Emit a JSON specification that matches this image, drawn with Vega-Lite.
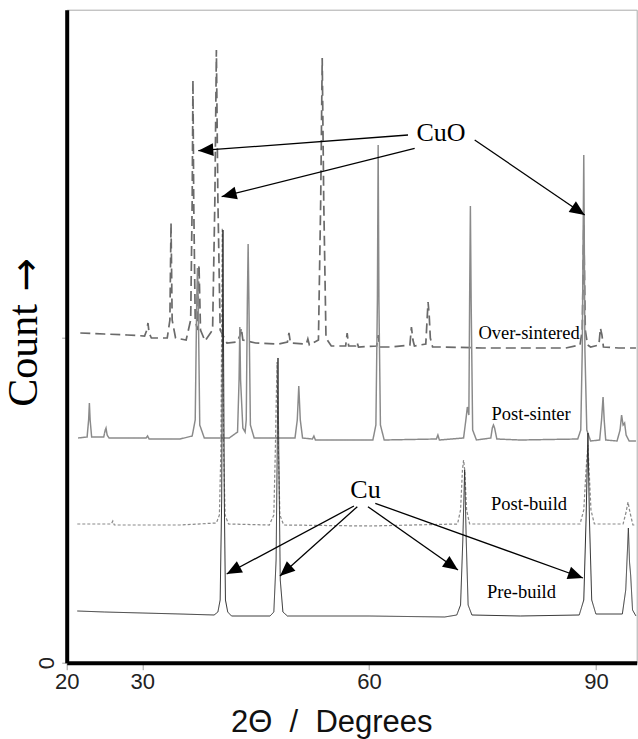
{
  "$schema": "https://vega.github.io/schema/vega-lite/v6.json",
  "width": 570,
  "height": 653,
  "autosize": "none",
  "padding": {"left": 66.7, "top": 9.7, "right": 1.3, "bottom": 76.3},
  "background": "white",
  "config": {"view": {"stroke": "#aaaaaa", "strokeWidth": 1}, "font": "Liberation Sans"},
  "resolve": {"axis": {"y": "independent"}},
  "datasets": {
    "traces": [
      {"sample":"Over-sintered","deg":21.8,"count":3297},{"sample":"Over-sintered","deg":25,"count":3287},{"sample":"Over-sintered","deg":28,"count":3277},{"sample":"Over-sintered","deg":30.3,"count":3267},{"sample":"Over-sintered","deg":30.6,"count":3327},{"sample":"Over-sintered","deg":30.75,"count":3397},{"sample":"Over-sintered","deg":30.9,"count":3297},{"sample":"Over-sintered","deg":31.2,"count":3247},{"sample":"Over-sintered","deg":33.3,"count":3247},{"sample":"Over-sintered","deg":33.65,"count":3427},{"sample":"Over-sintered","deg":33.8,"count":4397},{"sample":"Over-sintered","deg":33.95,"count":3427},{"sample":"Over-sintered","deg":34.4,"count":3247},{"sample":"Over-sintered","deg":35.8,"count":3227},{"sample":"Over-sintered","deg":36.4,"count":3427},{"sample":"Over-sintered","deg":36.6,"count":4627},{"sample":"Over-sintered","deg":36.7,"count":5827},{"sample":"Over-sintered","deg":36.8,"count":4627},{"sample":"Over-sintered","deg":37.0,"count":3427},{"sample":"Over-sintered","deg":37.3,"count":3327},{"sample":"Over-sintered","deg":37.5,"count":3977},{"sample":"Over-sintered","deg":37.7,"count":3327},{"sample":"Over-sintered","deg":38.3,"count":3217},{"sample":"Over-sintered","deg":39.3,"count":3327},{"sample":"Over-sintered","deg":39.6,"count":4627},{"sample":"Over-sintered","deg":39.8,"count":6127},{"sample":"Over-sintered","deg":40.0,"count":4627},{"sample":"Over-sintered","deg":40.3,"count":3327},{"sample":"Over-sintered","deg":41.2,"count":3197},{"sample":"Over-sintered","deg":42.5,"count":3207},{"sample":"Over-sintered","deg":42.9,"count":3267},{"sample":"Over-sintered","deg":43.1,"count":3347},{"sample":"Over-sintered","deg":43.3,"count":3227},{"sample":"Over-sintered","deg":45,"count":3197},{"sample":"Over-sintered","deg":48,"count":3187},{"sample":"Over-sintered","deg":49.2,"count":3207},{"sample":"Over-sintered","deg":49.4,"count":3297},{"sample":"Over-sintered","deg":49.6,"count":3197},{"sample":"Over-sintered","deg":51.7,"count":3187},{"sample":"Over-sintered","deg":51.9,"count":3237},{"sample":"Over-sintered","deg":52.1,"count":3177},{"sample":"Over-sintered","deg":53.3,"count":3227},{"sample":"Over-sintered","deg":53.6,"count":4627},{"sample":"Over-sintered","deg":53.8,"count":6047},{"sample":"Over-sintered","deg":54.0,"count":4627},{"sample":"Over-sintered","deg":54.3,"count":3247},{"sample":"Over-sintered","deg":55,"count":3167},{"sample":"Over-sintered","deg":56.9,"count":3167},{"sample":"Over-sintered","deg":57.1,"count":3297},{"sample":"Over-sintered","deg":57.3,"count":3167},{"sample":"Over-sintered","deg":58.2,"count":3167},{"sample":"Over-sintered","deg":58.4,"count":3207},{"sample":"Over-sintered","deg":58.6,"count":3157},{"sample":"Over-sintered","deg":61.0,"count":3167},{"sample":"Over-sintered","deg":61.2,"count":3277},{"sample":"Over-sintered","deg":61.4,"count":3157},{"sample":"Over-sintered","deg":63,"count":3157},{"sample":"Over-sintered","deg":65.4,"count":3177},{"sample":"Over-sintered","deg":65.6,"count":3357},{"sample":"Over-sintered","deg":65.8,"count":3227},{"sample":"Over-sintered","deg":66.0,"count":3167},{"sample":"Over-sintered","deg":67.5,"count":3187},{"sample":"Over-sintered","deg":67.8,"count":3607},{"sample":"Over-sintered","deg":67.95,"count":3477},{"sample":"Over-sintered","deg":68.1,"count":3247},{"sample":"Over-sintered","deg":68.4,"count":3157},{"sample":"Over-sintered","deg":70,"count":3157},{"sample":"Over-sintered","deg":75,"count":3147},{"sample":"Over-sintered","deg":80,"count":3147},{"sample":"Over-sintered","deg":86,"count":3147},{"sample":"Over-sintered","deg":87.9,"count":3177},{"sample":"Over-sintered","deg":88.2,"count":3327},{"sample":"Over-sintered","deg":88.4,"count":4377},{"sample":"Over-sintered","deg":88.6,"count":3327},{"sample":"Over-sintered","deg":88.9,"count":3177},{"sample":"Over-sintered","deg":89.3,"count":3157},{"sample":"Over-sintered","deg":90.4,"count":3177},{"sample":"Over-sintered","deg":90.6,"count":3347},{"sample":"Over-sintered","deg":90.8,"count":3277},{"sample":"Over-sintered","deg":91.0,"count":3157},{"sample":"Over-sintered","deg":93,"count":3147},{"sample":"Over-sintered","deg":95.3,"count":3147},

      {"sample":"Post-sinter","deg":21.5,"count":2247},{"sample":"Post-sinter","deg":22.7,"count":2257},{"sample":"Post-sinter","deg":22.9,"count":2427},{"sample":"Post-sinter","deg":23.0,"count":2597},{"sample":"Post-sinter","deg":23.1,"count":2427},{"sample":"Post-sinter","deg":23.3,"count":2257},{"sample":"Post-sinter","deg":24.9,"count":2257},{"sample":"Post-sinter","deg":25.1,"count":2327},{"sample":"Post-sinter","deg":25.2,"count":2347},{"sample":"Post-sinter","deg":25.35,"count":2277},{"sample":"Post-sinter","deg":25.6,"count":2247},{"sample":"Post-sinter","deg":30.5,"count":2247},{"sample":"Post-sinter","deg":30.7,"count":2267},{"sample":"Post-sinter","deg":30.9,"count":2237},{"sample":"Post-sinter","deg":35,"count":2237},{"sample":"Post-sinter","deg":36.6,"count":2267},{"sample":"Post-sinter","deg":37.0,"count":2427},{"sample":"Post-sinter","deg":37.2,"count":3627},{"sample":"Post-sinter","deg":37.3,"count":3947},{"sample":"Post-sinter","deg":37.4,"count":3627},{"sample":"Post-sinter","deg":37.6,"count":2377},{"sample":"Post-sinter","deg":38.2,"count":2247},{"sample":"Post-sinter","deg":41.5,"count":2247},{"sample":"Post-sinter","deg":42.6,"count":2307},{"sample":"Post-sinter","deg":42.8,"count":2827},{"sample":"Post-sinter","deg":42.9,"count":3357},{"sample":"Post-sinter","deg":43.0,"count":2827},{"sample":"Post-sinter","deg":43.3,"count":2347},{"sample":"Post-sinter","deg":43.6,"count":2307},{"sample":"Post-sinter","deg":43.75,"count":2427},{"sample":"Post-sinter","deg":43.9,"count":3627},{"sample":"Post-sinter","deg":44.0,"count":4187},{"sample":"Post-sinter","deg":44.1,"count":3627},{"sample":"Post-sinter","deg":44.3,"count":2377},{"sample":"Post-sinter","deg":44.8,"count":2247},{"sample":"Post-sinter","deg":50.2,"count":2247},{"sample":"Post-sinter","deg":50.5,"count":2427},{"sample":"Post-sinter","deg":50.7,"count":2767},{"sample":"Post-sinter","deg":50.9,"count":2427},{"sample":"Post-sinter","deg":51.2,"count":2247},{"sample":"Post-sinter","deg":52.5,"count":2237},{"sample":"Post-sinter","deg":52.7,"count":2267},{"sample":"Post-sinter","deg":52.9,"count":2227},{"sample":"Post-sinter","deg":60.5,"count":2227},{"sample":"Post-sinter","deg":60.9,"count":2377},{"sample":"Post-sinter","deg":61.1,"count":3627},{"sample":"Post-sinter","deg":61.2,"count":5177},{"sample":"Post-sinter","deg":61.3,"count":3627},{"sample":"Post-sinter","deg":61.5,"count":2377},{"sample":"Post-sinter","deg":62,"count":2227},{"sample":"Post-sinter","deg":68.9,"count":2237},{"sample":"Post-sinter","deg":69.1,"count":2277},{"sample":"Post-sinter","deg":69.3,"count":2227},{"sample":"Post-sinter","deg":72.5,"count":2247},{"sample":"Post-sinter","deg":72.8,"count":2427},{"sample":"Post-sinter","deg":73.0,"count":2557},{"sample":"Post-sinter","deg":73.2,"count":2477},{"sample":"Post-sinter","deg":73.3,"count":3627},{"sample":"Post-sinter","deg":73.4,"count":4567},{"sample":"Post-sinter","deg":73.5,"count":3627},{"sample":"Post-sinter","deg":73.7,"count":2327},{"sample":"Post-sinter","deg":74.2,"count":2227},{"sample":"Post-sinter","deg":76.1,"count":2247},{"sample":"Post-sinter","deg":76.3,"count":2347},{"sample":"Post-sinter","deg":76.45,"count":2377},{"sample":"Post-sinter","deg":76.6,"count":2347},{"sample":"Post-sinter","deg":76.9,"count":2237},{"sample":"Post-sinter","deg":80,"count":2227},{"sample":"Post-sinter","deg":87.6,"count":2237},{"sample":"Post-sinter","deg":88.0,"count":2327},{"sample":"Post-sinter","deg":88.2,"count":3127},{"sample":"Post-sinter","deg":88.4,"count":5077},{"sample":"Post-sinter","deg":88.55,"count":3127},{"sample":"Post-sinter","deg":88.8,"count":2327},{"sample":"Post-sinter","deg":89.3,"count":2217},{"sample":"Post-sinter","deg":90.5,"count":2227},{"sample":"Post-sinter","deg":90.75,"count":2427},{"sample":"Post-sinter","deg":90.95,"count":2657},{"sample":"Post-sinter","deg":91.1,"count":2427},{"sample":"Post-sinter","deg":91.3,"count":2227},{"sample":"Post-sinter","deg":92.8,"count":2217},{"sample":"Post-sinter","deg":93.2,"count":2327},{"sample":"Post-sinter","deg":93.4,"count":2477},{"sample":"Post-sinter","deg":93.6,"count":2377},{"sample":"Post-sinter","deg":93.8,"count":2397},{"sample":"Post-sinter","deg":94.0,"count":2277},{"sample":"Post-sinter","deg":94.4,"count":2217},{"sample":"Post-sinter","deg":95.3,"count":2217},

      {"sample":"Post-build","deg":21.4,"count":1387},{"sample":"Post-build","deg":25.9,"count":1387},{"sample":"Post-build","deg":26.1,"count":1417},{"sample":"Post-build","deg":26.3,"count":1377},{"sample":"Post-build","deg":35,"count":1377},{"sample":"Post-build","deg":39.8,"count":1397},{"sample":"Post-build","deg":40.2,"count":1477},{"sample":"Post-build","deg":40.4,"count":2127},{"sample":"Post-build","deg":40.58,"count":4347},{"sample":"Post-build","deg":40.75,"count":2127},{"sample":"Post-build","deg":40.95,"count":1477},{"sample":"Post-build","deg":41.4,"count":1387},{"sample":"Post-build","deg":46.8,"count":1377},{"sample":"Post-build","deg":47.4,"count":1477},{"sample":"Post-build","deg":47.6,"count":2127},{"sample":"Post-build","deg":47.82,"count":3007},{"sample":"Post-build","deg":48.0,"count":2127},{"sample":"Post-build","deg":48.2,"count":1477},{"sample":"Post-build","deg":48.7,"count":1377},{"sample":"Post-build","deg":60,"count":1367},{"sample":"Post-build","deg":71.7,"count":1387},{"sample":"Post-build","deg":72.1,"count":1527},{"sample":"Post-build","deg":72.35,"count":1927},{"sample":"Post-build","deg":72.5,"count":2027},{"sample":"Post-build","deg":72.65,"count":1927},{"sample":"Post-build","deg":72.9,"count":1527},{"sample":"Post-build","deg":73.3,"count":1387},{"sample":"Post-build","deg":87.9,"count":1387},{"sample":"Post-build","deg":88.4,"count":1527},{"sample":"Post-build","deg":88.7,"count":1927},{"sample":"Post-build","deg":88.95,"count":2177},{"sample":"Post-build","deg":89.1,"count":1927},{"sample":"Post-build","deg":89.35,"count":1527},{"sample":"Post-build","deg":89.8,"count":1387},{"sample":"Post-build","deg":93.6,"count":1387},{"sample":"Post-build","deg":94.0,"count":1507},{"sample":"Post-build","deg":94.25,"count":1607},{"sample":"Post-build","deg":94.5,"count":1507},{"sample":"Post-build","deg":94.9,"count":1377},{"sample":"Post-build","deg":95.3,"count":1377},

      {"sample":"Pre-build","deg":21.4,"count":517},{"sample":"Pre-build","deg":25,"count":507},{"sample":"Pre-build","deg":30,"count":497},{"sample":"Pre-build","deg":35,"count":487},{"sample":"Pre-build","deg":39.5,"count":477},{"sample":"Pre-build","deg":40.0,"count":507},{"sample":"Pre-build","deg":40.3,"count":627},{"sample":"Pre-build","deg":40.5,"count":1627},{"sample":"Pre-build","deg":40.67,"count":4327},{"sample":"Pre-build","deg":40.85,"count":1627},{"sample":"Pre-build","deg":41.0,"count":627},{"sample":"Pre-build","deg":41.3,"count":507},{"sample":"Pre-build","deg":41.8,"count":467},{"sample":"Pre-build","deg":46.9,"count":467},{"sample":"Pre-build","deg":47.4,"count":507},{"sample":"Pre-build","deg":47.7,"count":1027},{"sample":"Pre-build","deg":47.85,"count":2127},{"sample":"Pre-build","deg":47.95,"count":3047},{"sample":"Pre-build","deg":48.05,"count":2127},{"sample":"Pre-build","deg":48.25,"count":827},{"sample":"Pre-build","deg":48.6,"count":507},{"sample":"Pre-build","deg":49.2,"count":467},{"sample":"Pre-build","deg":60,"count":467},{"sample":"Pre-build","deg":70,"count":457},{"sample":"Pre-build","deg":71.6,"count":477},{"sample":"Pre-build","deg":72.1,"count":577},{"sample":"Pre-build","deg":72.4,"count":1227},{"sample":"Pre-build","deg":72.64,"count":1927},{"sample":"Pre-build","deg":72.85,"count":1227},{"sample":"Pre-build","deg":73.1,"count":577},{"sample":"Pre-build","deg":73.6,"count":477},{"sample":"Pre-build","deg":80,"count":467},{"sample":"Pre-build","deg":87.8,"count":477},{"sample":"Pre-build","deg":88.4,"count":627},{"sample":"Pre-build","deg":88.7,"count":1427},{"sample":"Pre-build","deg":88.95,"count":2297},{"sample":"Pre-build","deg":89.15,"count":1427},{"sample":"Pre-build","deg":89.45,"count":627},{"sample":"Pre-build","deg":90.0,"count":487},{"sample":"Pre-build","deg":93.5,"count":487},{"sample":"Pre-build","deg":93.95,"count":727},{"sample":"Pre-build","deg":94.3,"count":1347},{"sample":"Pre-build","deg":94.45,"count":1007},{"sample":"Pre-build","deg":94.6,"count":877},{"sample":"Pre-build","deg":94.85,"count":527},{"sample":"Pre-build","deg":95.3,"count":467}
    ],
    "arrows": [
      {"label":"CuO","x0":65.15,"y0":5277,"x1":37.41,"y1":5120},
      {"label":"CuO","x0":66.03,"y0":5144,"x1":40.5,"y1":4660},
      {"label":"CuO","x0":73.97,"y0":5227,"x1":88.52,"y1":4477},
      {"label":"Cu","x0":58.0,"y0":1567,"x1":41.16,"y1":887},
      {"label":"Cu","x0":58.44,"y0":1560,"x1":48.21,"y1":867},
      {"label":"Cu","x0":59.85,"y0":1560,"x1":71.76,"y1":927},
      {"label":"Cu","x0":60.82,"y0":1594,"x1":88.29,"y1":847}
    ],
    "labels": [
      {"kind":"sample","text":"Over-sintered","deg":81.16,"count":3297},
      {"kind":"sample","text":"Post-sinter","deg":81.43,"count":2487},
      {"kind":"sample","text":"Post-build","deg":81.16,"count":1587},
      {"kind":"sample","text":"Pre-build","deg":80.16,"count":707},
      {"kind":"phase","text":"CuO","deg":69.51,"count":5297},
      {"kind":"phase","text":"Cu","deg":59.52,"count":1727}
    ]
  },
  "layer": [
    {
      "data": {"name": "traces"},
      "mark": {"type": "line", "interpolate": "linear"},
      "encoding": {
        "x": {"field": "deg", "type": "quantitative",
              "scale": {"domain": [20, 95.4], "nice": false, "zero": false},
              "axis": {"values": [20, 30, 60, 90], "grid": false, "labelFlush": false,
                       "domainColor": "black", "domainWidth": 4,
                       "tickColor": "#a0a0a0", "tickSize": 7, "tickWidth": 1,
                       "labelFont": "Liberation Sans", "labelFontSize": 22, "labelColor": "#222222", "labelPadding": 2,
                       "title": "2Θ\u00a0\u00a0/\u00a0\u00a0Degrees", "titleFont": "Liberation Sans", "titleFontSize": 31, "titleFontWeight": "normal", "titleColor": "#111111",
                       "titleX": 264.6, "titleY": 59.3, "titleAlign": "center", "titleBaseline": "middle"}},
        "y": {"field": "count", "type": "quantitative",
              "scale": {"domain": [0, 6530], "nice": false},
              "axis": {"values": [0, 3250], "grid": false, "labelFlush": false,
                       "labelExpr": "datum.value == 0 ? '0' : ''",
                       "domainColor": "black", "domainWidth": 4,
                       "tickColor": "#a0a0a0", "tickSize": 5, "tickWidth": 1,
                       "labelAngle": 270, "labelFont": "Liberation Sans", "labelFontSize": 22, "labelColor": "#222222", "labelPadding": 3,
                       "title": "Count", "titleFont": "Liberation Serif", "titleFontSize": 42, "titleFontWeight": "normal", "titleColor": "black",
                       "titleAngle": 270, "titleX": -42.7, "titleY": 345.3, "titleAlign": "center", "titleBaseline": "middle"}},
        "detail": {"field": "sample"},
        "color": {"field": "sample", "type": "nominal", "legend": null,
                  "scale": {"domain": ["Over-sintered", "Post-sinter", "Post-build", "Pre-build"], "range": ["#6a6a6a", "#8a8a8a", "#8a8a8a", "#2e2e2e"]}},
        "strokeDash": {"field": "sample", "type": "nominal", "legend": null,
                  "scale": {"domain": ["Over-sintered", "Post-sinter", "Post-build", "Pre-build"], "range": [[10, 5], [1, 0], [3, 2], [1, 0]]}},
        "strokeWidth": {"field": "sample", "type": "nominal", "legend": null,
                  "scale": {"domain": ["Over-sintered", "Post-sinter", "Post-build", "Pre-build"], "range": [1.7, 1, 1.2, 1]}}
      }
    },
    {
      "mark": {"type": "rule", "color": "black", "strokeWidth": 4},
      "encoding": {"y": {"datum": 6530, "type": "quantitative",
                         "axis": {"orient": "right", "domain": false, "ticks": false, "labels": false, "grid": false,
                                  "title": "→", "titleFont": "DejaVu Sans", "titleFontSize": 40, "titleFontWeight": "normal", "titleColor": "black",
                                  "titleAngle": 270, "titleX": -610, "titleY": 264.3, "titleAlign": "center", "titleBaseline": "middle"}}}
    },
    {
      "data": {"name": "arrows"},
      "mark": {"type": "rule", "color": "black", "strokeWidth": 1.3},
      "encoding": {
        "x": {"field": "x0", "type": "quantitative"},
        "y": {"field": "y0", "type": "quantitative", "axis": null},
        "x2": {"field": "x1"},
        "y2": {"field": "y1"}
      }
    },
    {
      "data": {"name": "arrows"},
      "transform": [{"calculate": "atan2((datum.x1 - datum.x0) * 7.56, (datum.y1 - datum.y0) * 0.1) * 180 / PI", "as": "ang"}],
      "mark": {"type": "point", "shape": "M0,0L-0.43,1L0.43,1Z", "size": 900, "filled": true, "color": "black", "opacity": 1, "strokeWidth": 0},
      "encoding": {
        "x": {"field": "x1", "type": "quantitative"},
        "y": {"field": "y1", "type": "quantitative", "axis": null},
        "angle": {"field": "ang", "type": "quantitative", "scale": null}
      }
    },
    {
      "data": {"name": "labels"},
      "transform": [{"filter": "datum.kind == 'sample'"}],
      "mark": {"type": "text", "font": "Liberation Serif", "fontSize": 18.5, "color": "black", "align": "center", "baseline": "middle"},
      "encoding": {
        "x": {"field": "deg", "type": "quantitative"},
        "y": {"field": "count", "type": "quantitative", "axis": null},
        "text": {"field": "text"}
      }
    },
    {
      "data": {"name": "labels"},
      "transform": [{"filter": "datum.kind == 'phase'"}],
      "mark": {"type": "text", "font": "Liberation Serif", "fontSize": 26, "color": "black", "align": "center", "baseline": "middle"},
      "encoding": {
        "x": {"field": "deg", "type": "quantitative"},
        "y": {"field": "count", "type": "quantitative", "axis": null},
        "text": {"field": "text"}
      }
    }
  ]
}
